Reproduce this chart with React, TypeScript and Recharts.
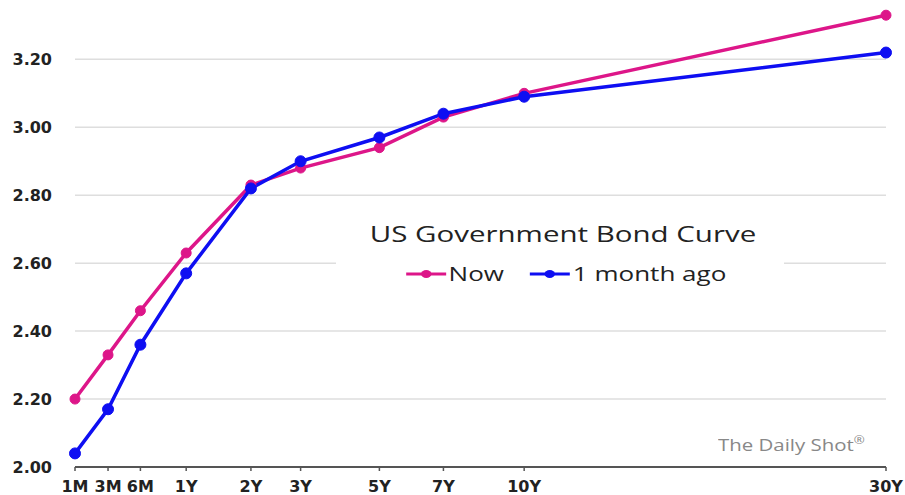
import { LineChart, Line, XAxis, YAxis, ReferenceLine, Legend } from "recharts";

const maturityLabels = ["1M", "3M", "6M", "1Y", "2Y", "3Y", "5Y", "7Y", "10Y", "30Y"];
const maturityYears = [1 / 12, 0.25, 0.5, 1, 2, 3, 5, 7, 10, 30];
const nowYields = [2.2, 2.33, 2.46, 2.63, 2.83, 2.88, 2.94, 3.03, 3.1, 3.33];
const monthAgoYields = [2.04, 2.17, 2.36, 2.57, 2.82, 2.9, 2.97, 3.04, 3.09, 3.22];
const yTicks = [2.0, 2.2, 2.4, 2.6, 2.8, 3.0, 3.2];
const seriesOrder = ["Now", "1 month ago"];

const NOW_COLOR = "#dd1689";
const AGO_COLOR = "#0e0ef2";

const data = maturityYears.map((years, i) => ({
  years,
  now: nowYields[i],
  monthAgo: monthAgoYields[i],
}));

const tickStyle = { fontSize: 16, fontWeight: 700, fill: "#222", fontFamily: "'DejaVu Sans', sans-serif" };

function Marker({ color }: { color: string }) {
  return (
    <svg width={31} height={12} style={{ display: "block" }}>
      <line x1={0} y1={6} x2={31} y2={6} stroke={color} strokeWidth={3} />
      <circle cx={15.5} cy={6} r={4} fill={color} />
    </svg>
  );
}

function LegendBox({ payload }: any) {
  const items = [...(payload || [])].sort(
    (a: any, b: any) => seriesOrder.indexOf(a.value) - seriesOrder.indexOf(b.value)
  );
  return (
    <div style={{ position: "relative", width: 448, height: 80, background: "#fff", fontFamily: "'Open Sans', sans-serif", color: "#222" }}>
      <div
        style={{
          position: "absolute",
          top: 12,
          left: 0,
          right: 0,
          textAlign: "center",
          fontSize: 22,
          lineHeight: "22px",
          whiteSpace: "nowrap",
          transform: "translateX(3px) scaleX(1.34)",
        }}
      >
        US Government Bond Curve
      </div>
      <div
        style={{
          position: "absolute",
          top: 54,
          left: 0,
          right: 0,
          display: "flex",
          justifyContent: "center",
          alignItems: "center",
          fontSize: 20,
          lineHeight: "20px",
          whiteSpace: "nowrap",
          transform: "translateX(6px) scaleX(1.3)",
        }}
      >
        {items.map((entry: any, i: number) => (
          <div key={entry.value} style={{ display: "flex", alignItems: "center", marginLeft: i > 0 ? 20 : 0 }}>
            <Marker color={entry.color} />
            <span style={{ marginLeft: 2 }}>{entry.value}</span>
          </div>
        ))}
      </div>
    </div>
  );
}

export default function App() {
  return (
    <div style={{ position: "absolute", left: 0, top: 0, width: 905, height: 495, background: "#fff" }}>
      <LineChart
        width={905}
        height={495}
        data={data}
        margin={{ top: 5, right: 19, bottom: 0, left: 0 }}
        accessibilityLayer={false}
      >
        <XAxis
          dataKey="years"
          type="number"
          scale="sqrt"
          domain={[maturityYears[0], maturityYears[maturityYears.length - 1]]}
          ticks={maturityYears}
          interval={0}
          tickFormatter={(_v: number, i: number) => maturityLabels[i]}
          tick={tickStyle}
          axisLine={{ stroke: "#555", strokeWidth: 2 }}
          tickLine={{ stroke: "#555", strokeWidth: 1.5 }}
          tickSize={4}
          tickMargin={10}
          height={28}
        />
        <YAxis
          type="number"
          domain={[2, 3.36]}
          ticks={yTicks}
          tickFormatter={(v: number) => v.toFixed(2)}
          tick={tickStyle}
          axisLine={false}
          tickLine={false}
          tickSize={0}
          tickMargin={23}
          width={75}
        />
        {yTicks.slice(1).map((v) => (
          <ReferenceLine key={v} y={v} stroke="#dedede" strokeWidth={1.5} />
        ))}
        <Legend
          layout="horizontal"
          align="center"
          verticalAlign="middle"
          content={<LegendBox />}
          wrapperStyle={{ left: 336, top: 210, width: 448, height: 80 }}
        />
        <Line
          type="linear"
          dataKey="now"
          name="Now"
          stroke={NOW_COLOR}
          strokeWidth={3.5}
          dot={{ r: 5, fill: NOW_COLOR, stroke: NOW_COLOR, strokeWidth: 1 }}
          activeDot={false}
          isAnimationActive={false}
        />
        <Line
          type="linear"
          dataKey="monthAgo"
          name="1 month ago"
          stroke={AGO_COLOR}
          strokeWidth={3.5}
          dot={{ r: 5.5, fill: AGO_COLOR, stroke: AGO_COLOR, strokeWidth: 1 }}
          activeDot={false}
          isAnimationActive={false}
        />
      </LineChart>
      <div
        style={{
          position: "absolute",
          left: 718,
          top: 431,
          fontFamily: "'Open Sans', sans-serif",
          fontSize: 17,
          lineHeight: "17px",
          color: "#888",
          whiteSpace: "nowrap",
          transform: "scaleX(1.2)",
          transformOrigin: "left center",
        }}
      >
        The Daily Shot<sup style={{ fontSize: 11 }}>®</sup>
      </div>
    </div>
  );
}
